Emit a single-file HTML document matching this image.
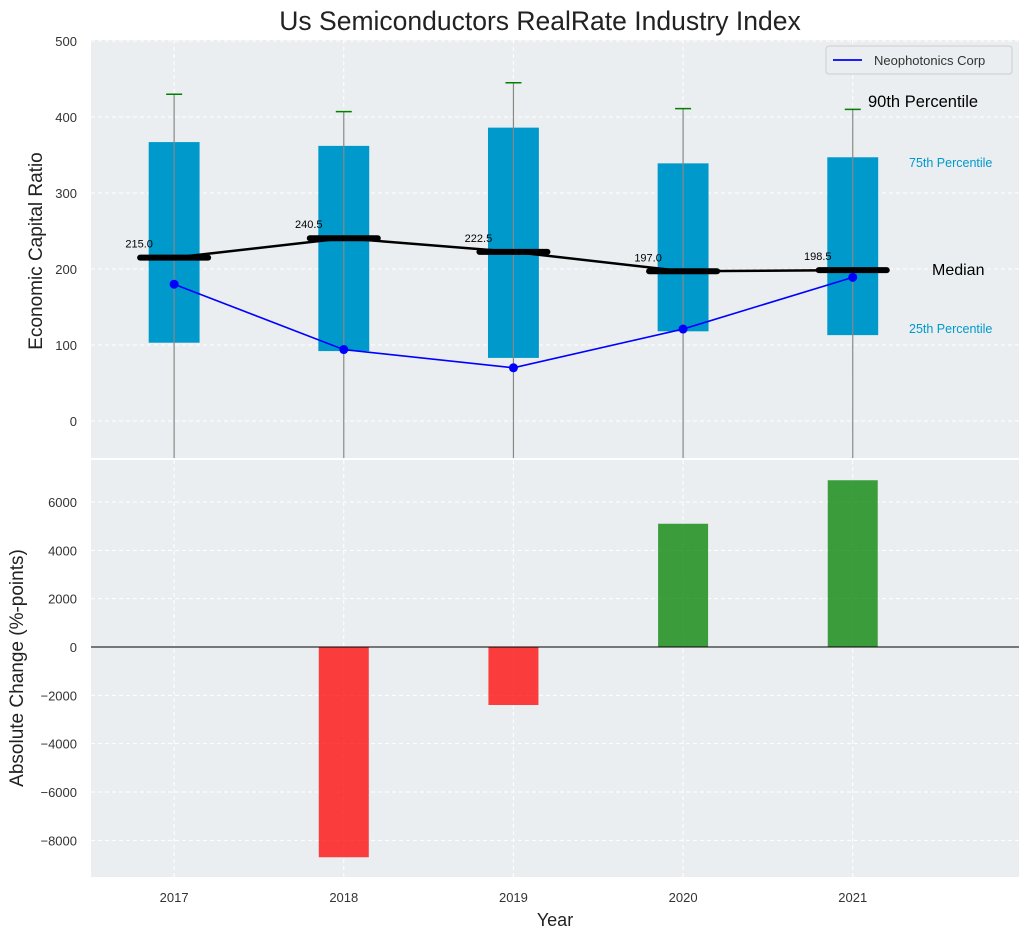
<!DOCTYPE html>
<html><head><meta charset="utf-8"><style>
body{margin:0;background:#fff;font-family:"Liberation Sans","DejaVu Sans",sans-serif}
svg text{font-family:"Liberation Sans","DejaVu Sans",sans-serif}
</style></head><body>
<svg id="c" width="1029" height="940" xmlns="http://www.w3.org/2000/svg"></svg>
<script>
const years=[2017,2018,2019,2020,2021];
const p25=[103,92,83,118,113];
const p75=[367,362,386,339,347];
const p90=[430,407,445,411,410];
const medians=[215,240.5,222.5,197,198.5];
const company=[180,94,70,121,189];
const changes=[0,-8700,-2400,5100,6900];
const topTicks=[0,100,200,300,400,500];
const botTicks=[-8000,-6000,-4000,-2000,0,2000,4000,6000];
const NS="http://www.w3.org/2000/svg";
const svg=document.getElementById('c');
function el(t,a,parent){const e=document.createElementNS(NS,t);for(const k in a)e.setAttribute(k,a[k]);(parent||svg).appendChild(e);return e;}
const L=91,R=1019;
const x=v=>L+(v-2016.51)/(2021.98-2016.51)*(R-L);
const yT=v=>421-v*0.76;
const yB=v=>647-v*(145/6000);
const T0=40,T1=458,B0=460,B1=877;
const t=el('text',{x:540,y:30,'text-anchor':'middle','font-size':26.5,fill:'#222'});t.textContent='Us Semiconductors RealRate Industry Index';

const pt=el('rect',{x:L,y:T0,width:R-L,height:T1-T0,fill:'#eaeef0'});

const pb=el('rect',{x:L,y:B0,width:R-L,height:B1-B0,fill:'#eaeef0'});

topTicks.forEach(v=>{el('line',{x1:L,x2:R,y1:yT(v),y2:yT(v),stroke:'#fff','stroke-dasharray':'4,3'});
 const tx=el('text',{x:77,y:yT(v)+5,'text-anchor':'end','font-size':13,fill:'#333'});tx.textContent=v;
 });
botTicks.forEach(v=>{el('line',{x1:L,x2:R,y1:yB(v),y2:yB(v),stroke:'#fff','stroke-dasharray':'4,3'});
 const tx=el('text',{x:77,y:yB(v)+5,'text-anchor':'end','font-size':13,fill:'#333'});tx.textContent=v<0?'−'+(-v):v;
 });
years.forEach(yv=>{el('line',{x1:x(yv),x2:x(yv),y1:T0,y2:T1,stroke:'#fff','stroke-dasharray':'4,3'});
 el('line',{x1:x(yv),x2:x(yv),y1:B0,y2:B1,stroke:'#fff','stroke-dasharray':'4,3'});
 const tx=el('text',{x:x(yv),y:902,'text-anchor':'middle','font-size':13,fill:'#333'});tx.textContent=yv;
 });
const hw=0.15*(R-L)/5.47;
years.forEach((yv,i)=>{
 const b=el('rect',{x:x(yv)-hw,y:yT(p75[i]),width:2*hw,height:yT(p25[i])-yT(p75[i]),fill:'#0099cc'});
 
 const w=el('line',{x1:x(yv),x2:x(yv),y1:yT(p90[i]),y2:T1,stroke:'#888','stroke-width':1.2});
 
 const c=el('line',{x1:x(yv)-8,x2:x(yv)+8,y1:yT(p90[i]),y2:yT(p90[i]),stroke:'green','stroke-width':1.5});
 
});
const mp=el('polyline',{points:years.map((yv,i)=>x(yv)+','+yT(medians[i])).join(' '),fill:'none',stroke:'#000','stroke-width':2.5});

years.forEach((yv,i)=>{
 const m=el('line',{x1:x(yv)-34,x2:x(yv)+34,y1:yT(medians[i]),y2:yT(medians[i]),stroke:'#000','stroke-width':6,'stroke-linecap':'round'});
 
 const tx=el('text',{x:x(yv)-35,y:yT(medians[i])-10,'text-anchor':'middle','font-size':11,fill:'#000'});tx.textContent=medians[i].toFixed(1);
 
});
const cp=el('polyline',{points:years.map((yv,i)=>x(yv)+','+yT(company[i])).join(' '),fill:'none',stroke:'blue','stroke-width':1.6});

years.forEach((yv,i)=>{const d=el('circle',{cx:x(yv),cy:yT(company[i]),r:4.5,fill:'blue'});
 });
[['90th Percentile',868,107,16.5,'#000'],['75th Percentile',909,167,12.5,'#0099cc'],['Median',932,275,16,'#000'],['25th Percentile',909,333,12.5,'#0099cc']].forEach(a=>{
 const tx=el('text',{x:a[1],y:a[2],'font-size':a[3],fill:a[4]});tx.textContent=a[0];
 });
const lg=el('g',{});
el('rect',{x:826,y:46,width:186,height:28,fill:'#eaeef0',stroke:'#ccc',rx:3},lg);
el('line',{x1:833,x2:862,y1:60,y2:60,stroke:'blue','stroke-width':1.8},lg);
const lt=el('text',{x:874,y:65,'font-size':13,fill:'#333'},lg);lt.textContent='Neophotonics Corp';
years.forEach((yv,i)=>{const v=changes[i];if(v===0)return;
 const b=el('rect',{x:x(yv)-25,y:Math.min(yB(0),yB(v)),width:50,height:Math.abs(yB(v)-yB(0)),fill:v<0?'rgba(255,0,0,0.75)':'rgba(0,128,0,0.75)'});
 });
el('line',{x1:L,x2:R,y1:yB(0),y2:yB(0),stroke:'#000','stroke-width':1});
const a1=el('text',{x:0,y:0,'font-size':19,fill:'#222','text-anchor':'middle',transform:'translate(42,251) rotate(-90)'});a1.textContent='Economic Capital Ratio';

const a2=el('text',{x:0,y:0,'font-size':19,fill:'#222','text-anchor':'middle',transform:'translate(23,668) rotate(-90)'});a2.textContent='Absolute Change (%-points)';

const a3=el('text',{x:555,y:926,'font-size':18,fill:'#222','text-anchor':'middle'});a3.textContent='Year';

</script></body></html>
